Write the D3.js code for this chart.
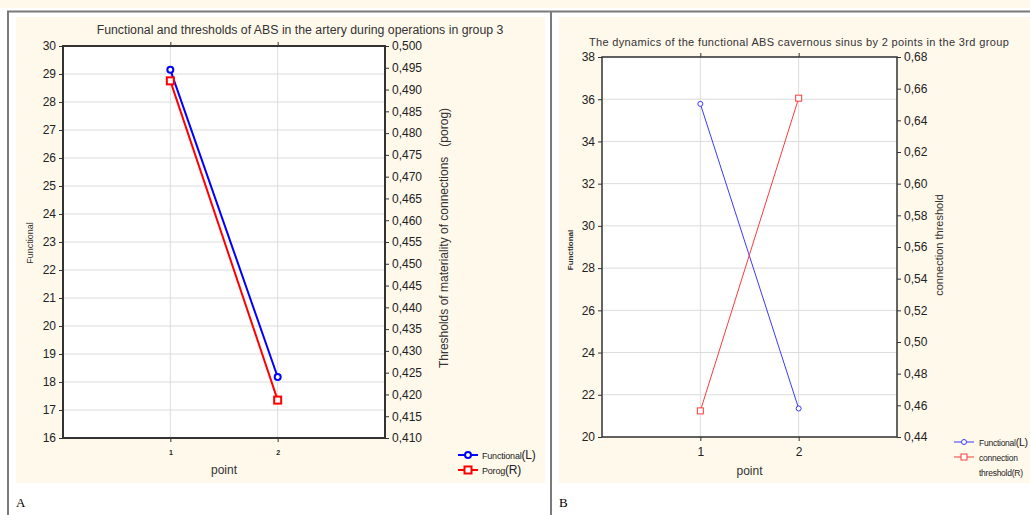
<!DOCTYPE html>
<html>
<head>
<meta charset="utf-8">
<script src="https://cdn.jsdelivr.net/npm/d3@7"></script>
<style>
  html, body { margin: 0; padding: 0; background: #fff; }
  svg { display: block; font-family: "Liberation Sans", Arial, sans-serif; }
</style>
</head>
<body>
<div id="chart"></div>
<script>
/**
 * Data
 */
const points = [1, 2]

// panel A
const aFunctional = [29.15, 18.18]
const aPorog = [0.492, 0.4187]
const aLeftTicks = [16, 17, 18, 19, 20, 21, 22, 23, 24, 25, 26, 27, 28, 29, 30]
const aRightTicks = [0.410, 0.415, 0.420, 0.425, 0.430, 0.435, 0.440, 0.445, 0.450,
                     0.455, 0.460, 0.465, 0.470, 0.475, 0.480, 0.485, 0.490, 0.495, 0.500]

// panel B
const bFunctional = [35.78, 21.35]
const bThreshold = [0.4565, 0.654]
const bLeftTicks = [20, 22, 24, 26, 28, 30, 32, 34, 36, 38]
const bRightTicks = [0.44, 0.46, 0.48, 0.50, 0.52, 0.54, 0.56, 0.58, 0.60, 0.62, 0.64, 0.66, 0.68]

/**
 * Page frame
 */
const W = 1030, H = 515
const cream = "#fff9ec"

const svg = d3.select("#chart").append("svg")
    .attr("width", W)
    .attr("height", H)

svg.append("rect").attr("x", 0).attr("y", 0).attr("width", W).attr("height", 8).attr("fill", cream)
svg.append("rect").attr("x", 16).attr("y", 17).attr("width", 529).attr("height", 466).attr("fill", cream)
svg.append("rect").attr("x", 559).attr("y", 17).attr("width", W - 559).attr("height", 466).attr("fill", cream)

// frame lines
svg.append("line").attr("x1", 7).attr("x2", W).attr("y1", 11.5).attr("y2", 11.5)
    .attr("stroke", "#7a7a7a").attr("stroke-width", 2)
svg.append("line").attr("x1", 8).attr("x2", 8).attr("y1", 11).attr("y2", H)
    .attr("stroke", "#7a7a7a").attr("stroke-width", 2)
svg.append("line").attr("x1", 551).attr("x2", 551).attr("y1", 11).attr("y2", H)
    .attr("stroke", "#7a7a7a").attr("stroke-width", 2)

svg.append("text").attr("x", 16).attr("y", 507)
    .style("font-family", "'Liberation Serif', serif").style("font-size", "13px").text("A")
svg.append("text").attr("x", 559).attr("y", 507)
    .style("font-family", "'Liberation Serif', serif").style("font-size", "13px").text("B")

const fmt = (digits) => (d) => d3.format("." + digits + "f")(d).replace(".", ",")

/**
 * Draws one dual-axis panel
 */
function drawPanel(c) {
    const g = svg.append("g")

    const x = d3.scaleLinear().domain([0, 3]).range([c.left, c.right])
    const yL = d3.scaleLinear().domain(d3.extent(c.leftTicks)).range([c.bottom, c.top])
    const yR = d3.scaleLinear().domain(d3.extent(c.rightTicks)).range([c.bottom, c.top])

    // plot background
    g.append("rect")
        .attr("x", c.left).attr("y", c.top)
        .attr("width", c.right - c.left).attr("height", c.bottom - c.top)
        .attr("fill", "#fff")

    // grid
    g.append("g").selectAll("line").data(c.leftTicks).join("line")
        .attr("x1", c.left).attr("x2", c.right)
        .attr("y1", d => yL(d)).attr("y2", d => yL(d))
        .attr("stroke", "#dcdcdc").attr("stroke-width", 1)
    g.append("g").selectAll("line").data(points).join("line")
        .attr("x1", d => x(d)).attr("x2", d => x(d))
        .attr("y1", c.top).attr("y2", c.bottom)
        .attr("stroke", "#dcdcdc").attr("stroke-width", 1)

    // axes
    const axL = g.append("g").attr("transform", `translate(${c.left},0)`)
        .call(d3.axisLeft(yL).tickValues(c.leftTicks).tickSize(4).tickPadding(3).tickFormat(d3.format("d")))
    const axR = g.append("g").attr("transform", `translate(${c.right},0)`)
        .call(d3.axisRight(yR).tickValues(c.rightTicks).tickSize(4).tickPadding(3).tickFormat(fmt(c.rightDigits)))
    const axB = g.append("g").attr("transform", `translate(0,${c.bottom})`)
        .call(d3.axisBottom(x).tickValues(points).tickSize(4).tickPadding(c.xTickPad).tickFormat(d3.format("d")))
    const axT = g.append("g").attr("transform", `translate(0,${c.top})`)
        .call(d3.axisTop(x).tickValues(points).tickSize(4).tickFormat(""))

    ;[axL, axR, axB, axT].forEach(a => {
        a.select(".domain").remove()
        a.selectAll("line").attr("stroke", "#333")
        a.selectAll("text").attr("fill", "#222")
            .style("font-family", "'Liberation Sans', Arial, sans-serif")
            .style("font-size", c.tickFont)
    })
    axB.selectAll("text").style("font-size", c.xTickFont).style("font-weight", c.xTickWeight)

    // plot border
    g.append("rect")
        .attr("x", c.left).attr("y", c.top)
        .attr("width", c.right - c.left).attr("height", c.bottom - c.top)
        .attr("fill", "none").attr("stroke", "#333").attr("stroke-width", c.borderWidth)

    // titles
    g.append("text").attr("x", c.titleX).attr("y", c.titleY)
        .attr("text-anchor", "middle").attr("fill", "#333")
        .style("font-size", c.titleFont).style("letter-spacing", c.titleSpacing)
        .text(c.title)

    g.append("text").attr("transform", `translate(${c.leftTitleX},${c.leftTitleY}) rotate(-90)`)
        .attr("text-anchor", "middle").attr("fill", "#333")
        .style("font-size", c.leftTitleFont).style("font-weight", c.leftTitleWeight)
        .text("Functional")

    g.append("text").attr("transform", `translate(${c.rightTitleX},${c.rightTitleY}) rotate(-90)`)
        .attr("text-anchor", "middle").attr("fill", "#333")
        .style("font-size", c.rightTitleFont)
        .style("white-space", "pre")
        .text(c.rightTitle)

    g.append("text").attr("x", (c.left + c.right) / 2).attr("y", c.xTitleY)
        .attr("text-anchor", "middle").attr("fill", "#333")
        .style("font-size", "12px")
        .text("point")

    // series
    const line = (yScale, vals) => d3.line()
        .x((d, i) => x(points[i]))
        .y(d => yScale(d))(vals)

    g.append("path").attr("d", line(yL, c.leftVals))
        .attr("fill", "none").attr("stroke", c.blue).attr("stroke-width", c.lineWidth)
    g.append("path").attr("d", line(yR, c.rightVals))
        .attr("fill", "none").attr("stroke", c.red).attr("stroke-width", c.lineWidth)

    g.append("g").selectAll("circle").data(c.leftVals).join("circle")
        .attr("cx", (d, i) => x(points[i])).attr("cy", d => yL(d))
        .attr("r", c.markR).attr("fill", "#fff")
        .attr("stroke", c.blue).attr("stroke-width", c.lineWidth)
    g.append("g").selectAll("rect").data(c.rightVals).join("rect")
        .attr("x", (d, i) => x(points[i]) - c.markS / 2).attr("y", d => yR(d) - c.markS / 2)
        .attr("width", c.markS).attr("height", c.markS).attr("fill", "#fff")
        .attr("stroke", c.red).attr("stroke-width", c.lineWidth)

    // legend
    const lg = g.append("g").attr("transform", `translate(${c.legendX},${c.legendY})`)
    c.legend.forEach((item, i) => {
        const row = lg.append("g").attr("transform", `translate(0,${i * c.legendStep})`)
        row.append("line").attr("x1", 0).attr("x2", 20).attr("y1", 0).attr("y2", 0)
            .attr("stroke", item.color).attr("stroke-width", c.lineWidth)
        if (item.shape === "circle") {
            row.append("circle").attr("cx", 10).attr("cy", 0).attr("r", c.markR)
                .attr("fill", "#fff").attr("stroke", item.color).attr("stroke-width", c.lineWidth)
        } else {
            row.append("rect").attr("x", 10 - c.markS / 2).attr("y", -c.markS / 2)
                .attr("width", c.markS).attr("height", c.markS)
                .attr("fill", "#fff").attr("stroke", item.color).attr("stroke-width", c.lineWidth)
        }
        item.lines.forEach((ln, j) => {
            const t = row.append("text").attr("x", c.legendTextX).attr("y", 4 + j * c.legendStep)
                .attr("fill", "#222").style("letter-spacing", c.legendSpacing)
            t.append("tspan").style("font-size", c.legendFont).text(ln[0])
            if (ln[1]) t.append("tspan").style("font-size", c.legendBigFont).text(ln[1])
        })
    })
}

/**
 * Panel A
 */
drawPanel({
    left: 63, right: 385, top: 46, bottom: 438,
    leftTicks: aLeftTicks, rightTicks: aRightTicks, rightDigits: 3,
    leftVals: aFunctional, rightVals: aPorog,
    tickFont: "12px", xTickFont: "7px", xTickWeight: "bold", xTickPad: 8,
    borderWidth: 2,
    title: "Functional and thresholds of ABS in the artery during operations in group 3",
    titleX: 300, titleY: 34, titleFont: "12.3px", titleSpacing: "0px",
    leftTitleX: 33, leftTitleY: 243, leftTitleFont: "9px", leftTitleWeight: "normal",
    rightTitle: "Thresholds of materiality of connections   (porog)",
    rightTitleX: 448, rightTitleY: 238, rightTitleFont: "12px",
    xTitleY: 474,
    blue: "#0000ff", red: "#ff0000", lineWidth: 2, markR: 3, markS: 7,
    legendX: 458, legendY: 455, legendStep: 15, legendTextX: 24,
    legendFont: "9px", legendBigFont: "12px", legendSpacing: "-0.2px",
    legend: [
        { color: "#0000ff", shape: "circle", lines: [["Functional", "(L)"]] },
        { color: "#ff0000", shape: "square", lines: [["Porog", "(R)"]] }
    ]
})

/**
 * Panel B
 */
drawPanel({
    left: 602, right: 897, top: 57, bottom: 437,
    leftTicks: bLeftTicks, rightTicks: bRightTicks, rightDigits: 2,
    leftVals: bFunctional, rightVals: bThreshold,
    tickFont: "12px", xTickFont: "12px", xTickWeight: "normal", xTickPad: 6,
    borderWidth: 1.5,
    title: "The dynamics of the functional ABS cavernous sinus by 2 points in the 3rd group",
    titleX: 799, titleY: 46, titleFont: "11px", titleSpacing: "0.35px",
    leftTitleX: 573, leftTitleY: 250, leftTitleFont: "8px", leftTitleWeight: "bold",
    rightTitle: "connection threshold",
    rightTitleX: 943, rightTitleY: 245, rightTitleFont: "11px",
    xTitleY: 475,
    blue: "#3a3aff", red: "#ff3a3a", lineWidth: 1, markR: 2.5, markS: 6,
    legendX: 954, legendY: 442, legendStep: 15, legendTextX: 25,
    legendFont: "8.5px", legendBigFont: "10.5px", legendSpacing: "-0.25px",
    legend: [
        { color: "#3a3aff", shape: "circle", lines: [["Functional", "(L)"]] },
        { color: "#ff3a3a", shape: "square", lines: [["connection"], ["threshold(R)"]] }
    ]
})
</script>
</body>
</html>
